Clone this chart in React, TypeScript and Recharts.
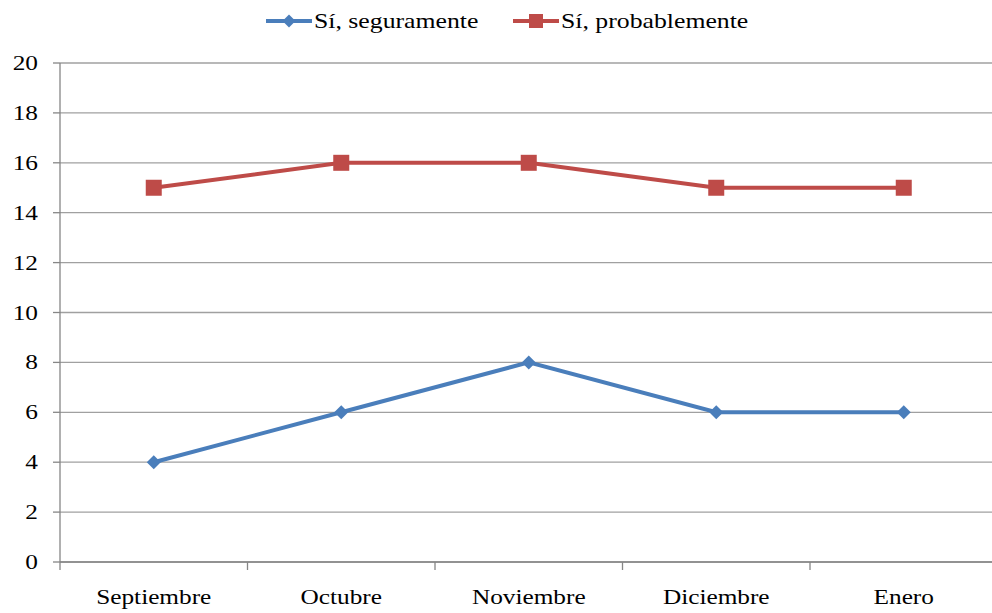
import { LineChart, Line, XAxis, YAxis, CartesianGrid, Legend } from "recharts"

const months = ["Septiembre", "Octubre", "Noviembre", "Diciembre", "Enero"]
const seguramente = [4, 6, 8, 6, 6]
const probablemente = [15, 16, 16, 15, 15]
const yTicks = [0, 2, 4, 6, 8, 10, 12, 14, 16, 18, 20]

const BLUE = "#4A7EBB"
const RED = "#BE4B48"
const AXIS = "#868686"
const FONT = "'Liberation Serif', 'Times New Roman', serif"
const HALF_BAND = 93.75

const data = months.map((m, i) => ({
  month: m,
  seguramente: seguramente[i],
  probablemente: probablemente[i],
}))

function Diamond(props: any) {
  const { cx, cy } = props
  if (cx == null || cy == null) return null
  return <path d={`M${cx},${cy - 7}L${cx + 7},${cy}L${cx},${cy + 7}L${cx - 7},${cy}Z`} fill={BLUE} />
}

function Square(props: any) {
  const { cx, cy } = props
  if (cx == null || cy == null) return null
  return <rect x={cx - 8} y={cy - 8} width={16} height={16} fill={RED} />
}

function MonthTick(props: any) {
  const { x, y, payload, index } = props
  return (
    <g>
      <line x1={x - HALF_BAND} x2={x - HALF_BAND} y1={y - 8} y2={y} stroke={AXIS} strokeWidth={1.3} />
      {index === months.length - 1 && (
        <line x1={x + HALF_BAND} x2={x + HALF_BAND} y1={y - 8} y2={y} stroke={AXIS} strokeWidth={1.3} />
      )}
      <g transform={`translate(${x},${y + 34}) scale(1.15,1)`}>
        <text x={0} y={0} textAnchor="middle" fill="#000" fontFamily={FONT} fontSize={22}>
          {payload.value}
        </text>
      </g>
    </g>
  )
}

function ValueTick(props: any) {
  const { x, y, payload } = props
  return (
    <g transform={`translate(${x},${y + 7}) scale(1.15,1)`}>
      <text x={0} y={0} textAnchor="end" fill="#000" fontFamily={FONT} fontSize={22}>
        {payload.value}
      </text>
    </g>
  )
}

function LegendBox() {
  const item = (label: string, color: string, marker: any) => (
    <div style={{ display: "flex", alignItems: "center" }}>
      <svg width={46} height={20}>
        <line x1={0} x2={46} y1={10} y2={10} stroke={color} strokeWidth={4} />
        {marker}
      </svg>
      <span
        style={{
          fontFamily: FONT,
          fontSize: 22,
          display: "inline-block",
          transform: "scaleX(1.17)",
          transformOrigin: "left center",
          marginLeft: 2,
        }}
      >
        {label}
      </span>
    </div>
  )
  return (
    <div style={{ position: "relative", height: 40 }}>
      <div style={{ position: "absolute", left: 266, top: 8 }}>
        {item("Sí, seguramente", BLUE, <path d="M23,3.5L29.5,10L23,16.5L16.5,10Z" fill={BLUE} />)}
      </div>
      <div style={{ position: "absolute", left: 513, top: 8 }}>
        {item("Sí, probablemente", RED, <rect x={16} y={3} width={14} height={14} fill={RED} />)}
      </div>
    </div>
  )
}

export default function App() {
  return (
    <div style={{ position: "absolute", left: 0, top: 0, width: 992, height: 613, overflow: "hidden", background: "#fff" }}>
      <LineChart width={1000} height={613} data={data} margin={{ top: 23, right: 2.5, bottom: 0, left: 0 }}>
        <CartesianGrid vertical={false} stroke="#A0A0A0" strokeWidth={1.3} />
        <Legend verticalAlign="top" content={() => <LegendBox />} wrapperStyle={{ top: 0, left: 0, width: 1000, height: 40 }} />
        <XAxis
          dataKey="month"
          padding={{ left: HALF_BAND, right: HALF_BAND }}
          height={51}
          tickLine={false}
          tickSize={8}
          tickMargin={0}
          axisLine={{ stroke: AXIS, strokeWidth: 1.3 }}
          tick={<MonthTick />}
          interval={0}
        />
        <YAxis
          domain={[0, 20]}
          ticks={yTicks}
          width={60}
          tickSize={7}
          tickMargin={15}
          tickLine={{ stroke: AXIS, strokeWidth: 1.3 }}
          axisLine={{ stroke: AXIS, strokeWidth: 1.3 }}
          tick={<ValueTick />}
          interval={0}
        />
        <Line
          dataKey="seguramente"
          name="Sí, seguramente"
          stroke={BLUE}
          strokeWidth={4}
          dot={<Diamond />}
          activeDot={false}
          isAnimationActive={false}
        />
        <Line
          dataKey="probablemente"
          name="Sí, probablemente"
          stroke={RED}
          strokeWidth={4}
          dot={<Square />}
          activeDot={false}
          isAnimationActive={false}
        />
      </LineChart>
    </div>
  )
}
